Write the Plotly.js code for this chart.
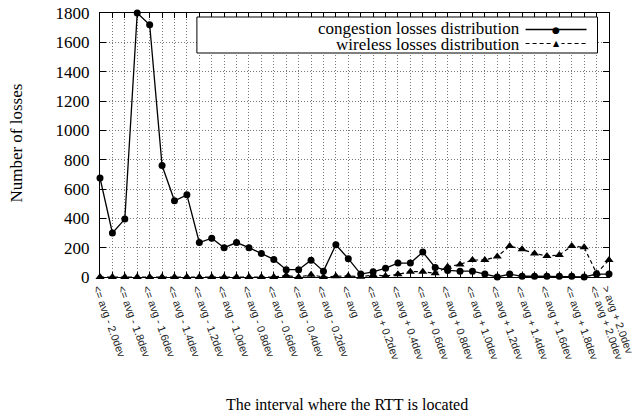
<!DOCTYPE html>
<html><head><meta charset="utf-8">
<script src="https://cdn.plot.ly/plotly-3.0.1.min.js"></script>
<style>html,body{margin:0;padding:0;background:#fff}#chart{width:635px;height:418px}</style>
</head><body><div id="chart"></div>
<script>
// interval upper bounds in units of dev from avg (last = "> avg + 2.0dev")
const intervals = [-2.0,-1.9,-1.8,-1.7,-1.6,-1.5,-1.4,-1.3,-1.2,-1.1,-1.0,-0.9,-0.8,-0.7,-0.6,-0.5,-0.4,-0.3,-0.2,-0.1,0.0,
  0.1,0.2,0.3,0.4,0.5,0.6,0.7,0.8,0.9,1.0,1.1,1.2,1.3,1.4,1.5,1.6,1.7,1.8,1.9,2.0,2.1];
const congestion = [675,300,395,1800,1720,760,520,560,235,265,200,235,200,160,120,50,50,115,40,220,125,
  20,35,60,95,95,170,65,45,40,40,20,0,20,5,5,5,5,5,0,20,20];
const wireless = [0,0,0,0,0,0,0,0,0,0,0,0,0,0,0,10,0,15,0,5,7,
  2,14,7,18,36,36,25,70,86,116,116,139,211,189,161,143,150,211,202,25,116];
const tickPositions = [-2.0,-1.8,-1.6,-1.4,-1.2,-1.0,-0.8,-0.6,-0.4,-0.2,0.0,0.2,0.4,0.6,0.8,1.0,1.2,1.4,1.6,1.8,2.0,2.1];
const tickLabels = ["<= avg - 2.0dev","<= avg - 1.8dev","<= avg - 1.6dev","<= avg - 1.4dev","<= avg - 1.2dev","<= avg - 1.0dev",
  "<= avg - 0.8dev","<= avg - 0.6dev","<= avg - 0.4dev","<= avg - 0.2dev","<= avg","<= avg + 0.2dev","<= avg + 0.4dev",
  "<= avg + 0.6dev","<= avg + 0.8dev","<= avg + 1.0dev","<= avg + 1.2dev","<= avg + 1.4dev","<= avg + 1.6dev",
  "<= avg + 1.8dev","<= avg + 2.0dev","> avg + 2.0dev"];
const seriesNames = ["congestion losses distribution","wireless losses distribution"];

const serif = "Liberation Serif, Times New Roman, serif";
const traces = [
  {x: intervals, y: wireless, name: seriesNames[1], mode:'lines+markers', cliponaxis:false,
   line:{color:'#000', width:1.2, dash:'4px,3px'}, marker:{symbol:'triangle-up', size:8, color:'#000'}},
  {x: intervals, y: congestion, name: seriesNames[0], mode:'lines+markers', cliponaxis:false,
   line:{color:'#000', width:1.3}, marker:{symbol:'circle', size:7, color:'#000'}}
];
const L = 100, R = 609.5, T = 13, B = 277;
const px = v => (v - L) / (R - L), py = v => (B - v) / (B - T);
const grid = {gridcolor:'#777', griddash:'1px,2px', gridwidth:1};
const layout = {
  width:635, height:418, showlegend:false,
  margin:{l:100, r:635-609.5, t:13, b:418-277},
  paper_bgcolor:'#fff', plot_bgcolor:'#fff',
  xaxis:Object.assign({range:[-2.0, 2.1000001], tickmode:'array', tickvals:tickPositions, ticktext:tickLabels, tickangle:70,
    tickfont:{family:'Liberation Sans, Arial, sans-serif', size:10.8, color:'#222'}, ticklabeloverflow:'allow', ticklabelshift:-2,
    ticks:'inside', ticklen:5, tickcolor:'#000', showline:true, linecolor:'#000', linewidth:1, mirror:'allticks',
    showgrid:true, zeroline:false,
    minor:Object.assign({tick0:-2.0, dtick:0.1, showgrid:true, ticks:'inside', ticklen:5, tickcolor:'#000'}, grid)}, grid),
  yaxis:Object.assign({range:[0,1800], dtick:200, tick0:0, tickfont:{family:serif, size:17, color:'#000'},
    ticks:'inside', ticklen:6, tickcolor:'#000', showline:true, linecolor:'#000', linewidth:1, mirror:'allticks',
    showgrid:true, zeroline:false, ticklabelstandoff:6}, grid),
  shapes:[
    {type:'rect', xref:'paper', yref:'paper', x0:px(197), x1:px(598), y0:py(53), y1:py(17), fillcolor:'#fff', line:{color:'#000', width:1}},
    {type:'line', xref:'paper', yref:'paper', x0:px(526), x1:px(587), y0:py(29.5), y1:py(29.5), line:{color:'#000', width:1.3}},
    {type:'line', xref:'paper', yref:'paper', x0:px(526), x1:px(587), y0:py(43.5), y1:py(43.5), line:{color:'#000', width:1.2, dash:'4px,3px'}}
  ],
  annotations:[
    {xref:'paper', yref:'paper', x:px(522), y:py(28.5), xanchor:'right', yanchor:'middle', showarrow:false, text:seriesNames[0], font:{family:serif, size:17, color:'#000'}},
    {xref:'paper', yref:'paper', x:px(522), y:py(44), xanchor:'right', yanchor:'middle', showarrow:false, text:seriesNames[1], font:{family:serif, size:17, color:'#000'}},
    {xref:'paper', yref:'paper', x:px(556.5), y:py(29.5), xanchor:'center', yanchor:'middle', showarrow:false, text:'●', font:{family:'DejaVu Sans', size:9, color:'#000'}},
    {xref:'paper', yref:'paper', x:px(556.5), y:py(43.5), xanchor:'center', yanchor:'middle', showarrow:false, text:'▲', font:{family:'DejaVu Sans', size:8, color:'#000'}, bgcolor:'#fff'},
    {xref:'paper', yref:'paper', x:px(16), y:py(143.5), xanchor:'center', yanchor:'middle', textangle:-90, showarrow:false, text:'Number of losses', font:{family:serif, size:17, color:'#000'}},
    {xref:'paper', yref:'paper', x:px(347), y:py(404), xanchor:'center', yanchor:'middle', showarrow:false, text:'The interval where the RTT is located', font:{family:serif, size:16, color:'#000'}}
  ]
};
Plotly.newPlot('chart', traces, layout, {displayModeBar:false, staticPlot:true});
</script></body></html>
